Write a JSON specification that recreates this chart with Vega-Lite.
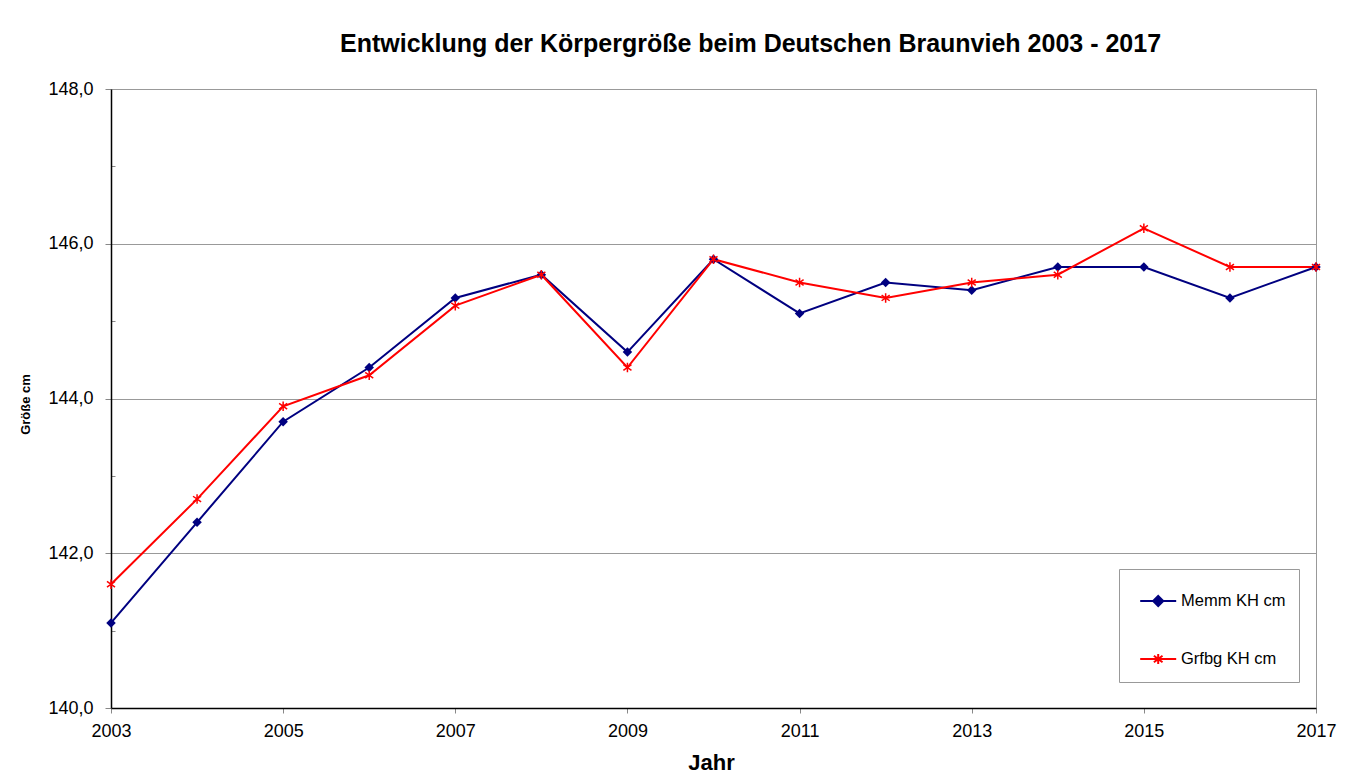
{
  "$schema": "https://vega.github.io/schema/vega-lite/v6.json",
  "width": 1205,
  "height": 619,
  "autosize": {"type": "none"},
  "padding": {"left": 111, "top": 89, "right": 32, "bottom": 74},
  "background": "white",
  "title": {
    "text": "Entwicklung der Körpergröße beim Deutschen Braunvieh 2003 - 2017",
    "font": "Liberation Sans",
    "fontSize": 25,
    "fontWeight": "bold",
    "color": "black",
    "anchor": "middle",
    "dx": 37,
    "offset": 23
  },
  "config": {
    "view": {"stroke": "#999999", "strokeWidth": 1},
    "font": "Liberation Sans"
  },
  "data": {
    "values": [
      {"Jahr": 2003, "Serie": "Memm KH cm", "cm": 141.1},
      {"Jahr": 2004, "Serie": "Memm KH cm", "cm": 142.4},
      {"Jahr": 2005, "Serie": "Memm KH cm", "cm": 143.7},
      {"Jahr": 2006, "Serie": "Memm KH cm", "cm": 144.4},
      {"Jahr": 2007, "Serie": "Memm KH cm", "cm": 145.3},
      {"Jahr": 2008, "Serie": "Memm KH cm", "cm": 145.6},
      {"Jahr": 2009, "Serie": "Memm KH cm", "cm": 144.6},
      {"Jahr": 2010, "Serie": "Memm KH cm", "cm": 145.8},
      {"Jahr": 2011, "Serie": "Memm KH cm", "cm": 145.1},
      {"Jahr": 2012, "Serie": "Memm KH cm", "cm": 145.5},
      {"Jahr": 2013, "Serie": "Memm KH cm", "cm": 145.4},
      {"Jahr": 2014, "Serie": "Memm KH cm", "cm": 145.7},
      {"Jahr": 2015, "Serie": "Memm KH cm", "cm": 145.7},
      {"Jahr": 2016, "Serie": "Memm KH cm", "cm": 145.3},
      {"Jahr": 2017, "Serie": "Memm KH cm", "cm": 145.7},
      {"Jahr": 2003, "Serie": "Grfbg KH cm", "cm": 141.6},
      {"Jahr": 2004, "Serie": "Grfbg KH cm", "cm": 142.7},
      {"Jahr": 2005, "Serie": "Grfbg KH cm", "cm": 143.9},
      {"Jahr": 2006, "Serie": "Grfbg KH cm", "cm": 144.3},
      {"Jahr": 2007, "Serie": "Grfbg KH cm", "cm": 145.2},
      {"Jahr": 2008, "Serie": "Grfbg KH cm", "cm": 145.6},
      {"Jahr": 2009, "Serie": "Grfbg KH cm", "cm": 144.4},
      {"Jahr": 2010, "Serie": "Grfbg KH cm", "cm": 145.8},
      {"Jahr": 2011, "Serie": "Grfbg KH cm", "cm": 145.5},
      {"Jahr": 2012, "Serie": "Grfbg KH cm", "cm": 145.3},
      {"Jahr": 2013, "Serie": "Grfbg KH cm", "cm": 145.5},
      {"Jahr": 2014, "Serie": "Grfbg KH cm", "cm": 145.6},
      {"Jahr": 2015, "Serie": "Grfbg KH cm", "cm": 146.2},
      {"Jahr": 2016, "Serie": "Grfbg KH cm", "cm": 145.7},
      {"Jahr": 2017, "Serie": "Grfbg KH cm", "cm": 145.7}
    ]
  },
  "encoding": {
    "x": {
      "field": "Jahr",
      "type": "quantitative",
      "title": "Jahr",
      "scale": {"domain": [2003, 2017], "nice": false, "zero": false},
      "axis": {
        "values": [2003, 2005, 2007, 2009, 2011, 2013, 2015, 2017],
        "format": "d",
        "grid": false,
        "labelFlush": false,
        "domainColor": "black",
        "domainWidth": 1.5,
        "tickColor": "#888888",
        "tickSize": 5,
        "labelFontSize": 18,
        "labelColor": "black",
        "labelPadding": 9,
        "titleFontSize": 22,
        "titleFontWeight": "bold",
        "titleColor": "black",
        "titlePadding": 12,
        "titleX": 600
      }
    },
    "y": {
      "field": "cm",
      "type": "quantitative",
      "title": "Größe cm",
      "scale": {"domain": [140, 148], "nice": false, "zero": false},
      "axis": {
        "values": [140, 141, 142, 143, 144, 145, 146, 147, 148],
        "labelExpr": "datum.value % 2 == 0 ? replace(format(datum.value, '.1f'), '.', ',') : ''",
        "labelFlush": false,
        "grid": true,
        "gridColor": {"condition": {"test": "datum.value % 2 == 0", "value": "#999999"}, "value": "transparent"},
        "domainColor": "black",
        "domainWidth": 1.5,
        "tickColor": "#888888",
        "tickSize": {"condition": {"test": "datum.value % 2 == 0", "value": 6}, "value": -4},
        "labelFontSize": 18,
        "labelColor": "black",
        "labelPadding": 12,
        "titleFontSize": 13,
        "titleFontWeight": "bold",
        "titleColor": "black",
        "titleAngle": -90,
        "titleX": -79,
        "titleY": 315
      }
    }
  },
  "layer": [
    {
      "mark": {"type": "line", "strokeWidth": 2},
      "encoding": {
        "color": {
          "field": "Serie",
          "type": "nominal",
          "scale": {"domain": ["Memm KH cm", "Grfbg KH cm"], "range": ["#000080", "#ff0000"]},
          "legend": {
            "title": null,
            "orient": "none",
            "legendX": 1008,
            "legendY": 480,
            "padding": 13,
            "strokeColor": "#999999",
            "fillColor": "white",
            "symbolSize": 1296,
            "rowPadding": 29,
            "labelFontSize": 16.5,
            "labelColor": "black",
            "labelOffset": 11,
            "encode": {
              "symbols": {
                "update": {
                  "shape": {"signal": "datum.value == 'Memm KH cm' ? 'M-0.6,0H1.4M0.4,-0.28L0.68,0L0.4,0.28L0.12,0Z' : 'M-0.6,0H1.4M0.4,-0.28V0.28M0.16,-0.18L0.64,0.18M0.16,0.18L0.64,-0.18'"},
                  "fill": {"signal": "scale('color', datum.value)"},
                  "stroke": {"signal": "scale('color', datum.value)"},
                  "strokeWidth": {"value": 2},
                  "opacity": {"value": 1}
                }
              }
            }
          }
        }
      }
    },
    {
      "transform": [{"filter": "datum.Serie == 'Memm KH cm'"}],
      "mark": {"type": "point", "shape": "diamond", "filled": true, "size": 90, "opacity": 1, "color": "#000080"}
    },
    {
      "transform": [{"filter": "datum.Serie == 'Grfbg KH cm'"}],
      "mark": {
        "type": "point",
        "shape": "M0,-1V1M-0.85,-0.6L0.85,0.6M-0.85,0.6L0.85,-0.6",
        "filled": false,
        "size": 90,
        "strokeWidth": 1.5,
        "opacity": 1,
        "color": "#ff0000"
      }
    }
  ]
}
